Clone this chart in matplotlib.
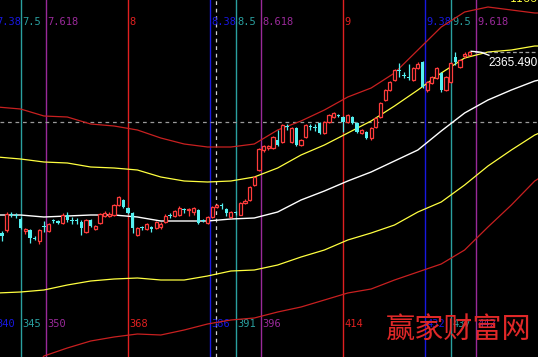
import matplotlib.pyplot as plt
import numpy as np

plt.rcParams['font.family'] = ['DejaVu Sans', 'Noto Sans CJK SC']

# daily candles, bar numbers 341..441
bars = list(range(341, 442))
opens = [2004, 2010, 2042, 2040, 2032, 2008, 2010, 1994, 1988, 2018,
         2008, 2030, 2028, 2024, 2040, 2030, 2030, 2026, 2006, 2030,
         2012, 2024, 2038, 2038, 2040, 2060, 2070, 2054, 2044, 2000,
         2016, 2012, 2016, 2014, 2016, 2026, 2040, 2038, 2040, 2052,
         2050, 2046, 2050, 2030, 2024, 2036, 2056, 2060, 2052, 2036,
         2046, 2040, 2064, 2070, 2100, 2130, 2170, 2174, 2174, 2190,
         2186, 2218, 2186, 2214, 2180, 2196, 2218, 2216, 2224, 2204,
         2226, 2236, 2240, 2236, 2226, 2236, 2224, 2204, 2206, 2194,
         2216, 2236, 2270, 2290, 2310, 2330, 2320, 2316, 2310, 2334,
         2346, 2290, 2304, 2314, 2324, 2290, 2306, 2356, 2336, 2358,
         2360]
closes = [1998, 2042, 2040, 2038, 2014, 2012, 1994, 1992, 2010, 2016,
          2022, 2028, 2024, 2040, 2030, 2028, 2028, 2014, 2030, 2018,
          2018, 2042, 2044, 2042, 2060, 2076, 2056, 2044, 2014, 2014,
          2014, 2022, 2012, 2026, 2022, 2038, 2038, 2048, 2054, 2050,
          2052, 2054, 2024, 2028, 2036, 2056, 2060, 2058, 2044, 2046,
          2044, 2064, 2068, 2096, 2116, 2172, 2178, 2178, 2196, 2180,
          2220, 2216, 2214, 2180, 2190, 2220, 2216, 2214, 2204, 2226,
          2240, 2244, 2238, 2226, 2240, 2224, 2206, 2210, 2194, 2214,
          2234, 2264, 2290, 2306, 2330, 2328, 2318, 2314, 2334, 2342,
          2296, 2306, 2316, 2334, 2290, 2316, 2344, 2346, 2350, 2362,
          2365.49]
highs = [2008, 2046, 2046, 2044, 2036, 2014, 2012, 1998, 2012, 2028,
         2024, 2032, 2030, 2044, 2046, 2036, 2034, 2030, 2032, 2032,
         2020, 2044, 2048, 2046, 2062, 2078, 2072, 2056, 2046, 2016,
         2018, 2024, 2018, 2028, 2026, 2042, 2044, 2050, 2058, 2054,
         2054, 2056, 2052, 2032, 2038, 2058, 2062, 2064, 2054, 2048,
         2048, 2066, 2072, 2098, 2118, 2174, 2180, 2180, 2198, 2210,
         2222, 2222, 2216, 2216, 2192, 2222, 2222, 2222, 2226, 2228,
         2242, 2246, 2242, 2238, 2242, 2238, 2226, 2212, 2208, 2216,
         2236, 2266, 2292, 2308, 2332, 2344, 2326, 2342, 2336, 2346,
         2348, 2308, 2318, 2336, 2326, 2318, 2346, 2366, 2352, 2366,
         2368]
lows = [1988, 2006, 2036, 2034, 2012, 2002, 1984, 1990, 1982, 2006,
        2006, 2024, 2022, 2022, 2026, 2022, 2022, 2000, 2004, 2016,
        2010, 2022, 2036, 2036, 2038, 2058, 2054, 2042, 2004, 1998,
        2010, 2010, 2006, 2012, 2012, 2024, 2034, 2036, 2038, 2044,
        2038, 2040, 2022, 2026, 2022, 2034, 2054, 2052, 2038, 2034,
        2040, 2040, 2062, 2068, 2098, 2128, 2166, 2170, 2172, 2178,
        2184, 2210, 2184, 2178, 2178, 2194, 2210, 2208, 2202, 2202,
        2224, 2234, 2236, 2206, 2224, 2222, 2204, 2202, 2192, 2190,
        2214, 2234, 2268, 2288, 2308, 2316, 2314, 2310, 2308, 2332,
        2294, 2286, 2302, 2312, 2286, 2288, 2304, 2340, 2334, 2354,
        2358]

# channel lines (sampled every 5 bars)
band_x = list(range(340, 456, 5)) + [456]
upper_red = [2256, 2252, 2238, 2236, 2222, 2218, 2210, 2194, 2182, 2176, 2176, 2182, 2210,
             2228, 2250, 2276, 2294, 2324, 2370, 2416, 2446, 2456, 2450, 2444, 2444]
upper_yellow = [2156, 2152, 2146, 2144, 2136, 2134, 2130, 2116, 2108, 2106, 2108, 2116, 2134,
                2160, 2180, 2204, 2228, 2258, 2290, 2324, 2354, 2366, 2370, 2378, 2378]
mid_white = [2040, 2040, 2036, 2038, 2040, 2040, 2036, 2028, 2028, 2028, 2032, 2034, 2046,
             2070, 2088, 2108, 2126, 2148, 2170, 2208, 2244, 2270, 2290, 2308, 2310]
lower_yellow = [1884, 1886, 1890, 1900, 1908, 1912, 1914, 1910, 1910, 1918, 1928, 1930, 1940,
                1956, 1970, 1990, 2004, 2020, 2046, 2066, 2100, 2138, 2170, 2200, 2204]
low_red_x = [349] + list(range(350, 456, 5)) + [456]
lower_red = [1746, 1758, 1774, 1788, 1796, 1802, 1800, 1810, 1822, 1830, 1834, 1846, 1856,
             1870, 1884, 1892, 1910, 1926, 1942, 1970, 2016, 2060, 2108, 2114]

# fibonacci time lines
fib_units = [7.38, 7.5, 7.618, 8, 8.38, 8.5, 8.618, 9, 9.38, 9.5, 9.618]
fib_top = ["7.38", "7.5", "7.618", "8", "8.38", "8.5", "8.618", "9", "9.38", "9.5", "9.618"]
fib_bottom = ["340", "345", "350", "368", "386", "391", "396", "414", "432", "437", "442"]
fib_colors = ["#1818e0", "#2aa0a0", "#9a2a9a", "#e02020"] * 3

RED = "#ff3c3c"
CYAN = "#54f0f0"

fig = plt.figure(figsize=(5.38, 3.57), dpi=100)
fig.patch.set_facecolor("black")
ax = fig.add_axes([0, 0, 1, 1])
ax.set_facecolor("black")
ax.set_xlim(340.6, 455.7)
ax.set_ylim(1756, 2470)
ax.axis("off")

# fib lines + labels
trans = ax.get_xaxis_transform()
for u, t1, t2, col in zip(fib_units, fib_top, fib_bottom, fib_colors):
    xb = 368 + (u - 8) * 46
    ax.axvline(xb, color=col, lw=1.0, zorder=1)
    ax.text(xb + 0.35, 0.938, t1, color=col, fontsize=7.5, family="DejaVu Sans Mono",
            va="center", ha="left", transform=trans, zorder=2)
    ax.text(xb + 0.35, 0.092, t2, color=col, fontsize=7.5, family="DejaVu Sans Mono",
            va="center", ha="left", transform=trans, zorder=2)

# crosshair
ax.axhline(2226, color="#9a9a9a", lw=0.9, ls=(0, (3, 3)), zorder=1)
ax.axvline(386.8, color="#d0d0d0", lw=0.9, ls=(0, (3, 3)), zorder=1)

# channel lines
ax.plot(band_x, upper_red, color="#c82020", lw=0.9, zorder=3)
ax.plot(band_x, upper_yellow, color="#ffff40", lw=0.9, zorder=3)
ax.plot(band_x, mid_white, color="white", lw=1.0, zorder=3)
ax.plot(band_x, lower_yellow, color="#ffff40", lw=0.9, zorder=3)
ax.plot(low_red_x, lower_red, color="#c82020", lw=0.9, zorder=3)

# candles
x = np.array(bars)
o = np.array(opens, dtype=float)
c = np.array(closes, dtype=float)
h = np.array(highs, dtype=float)
l = np.array(lows, dtype=float)
up = c >= o
b_lo = np.minimum(o, c)
b_hi = np.maximum(o, c)
b_h = np.maximum(b_hi - b_lo, 1.5)

ax.vlines(x[up], b_hi[up], h[up], color=RED, lw=0.9, zorder=4)
ax.vlines(x[up], l[up], b_lo[up], color=RED, lw=0.9, zorder=4)
ax.bar(x[up], b_h[up], bottom=b_lo[up], width=0.68, facecolor="black",
       edgecolor=RED, linewidth=0.9, zorder=5)
ax.vlines(x[~up], l[~up], h[~up], color=CYAN, lw=0.9, zorder=4)
ax.bar(x[~up], b_h[~up], bottom=b_lo[~up], width=0.72, color=CYAN, lw=0, zorder=5)

# last price marker
last = closes[-1]
ax.plot([bars[-1] + 1.2, 455.7], [last, last], color="#a0a0a0", lw=0.9, ls=(0, (3, 2)), zorder=3)
ax.plot([bars[-1] + 0.4, bars[-1] + 2.5, bars[-1] + 4.2], [last + 2, last, last - 6],
        color="white", lw=1.0, zorder=6)
ax.text(445.2, last - 22, "%.3f" % last, color="white", fontsize=8.5,
        family="Liberation Sans", va="center", ha="left", zorder=7)

# top-right clipped value
fig.text(510 / 538, 1 - 4 / 357, "1166.", color="#ffff40", fontsize=8, va="bottom", ha="left")

# watermark
fig.text(459 / 538, 1 - 330 / 357, "赢家财富网", color="#e02828", fontsize=21,
         family="Noto Sans CJK SC", ha="center", va="center")

fig.savefig("out.png", dpi=100, facecolor="black")
